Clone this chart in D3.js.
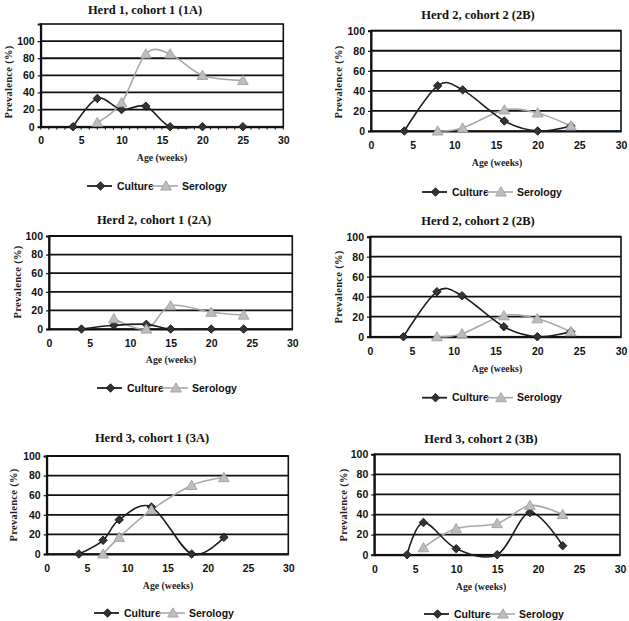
<!DOCTYPE html>
<html>
<head>
<meta charset="utf-8">
<script src="https://cdn.jsdelivr.net/npm/d3@7"></script>
<style>
  html, body { margin: 0; padding: 0; background: #fff; }
  svg { display: block; }
</style>
</head>
<body>
<svg id="chart" width="629" height="621"></svg>
<script>
// ---------- DATA ----------
const panelTitles = ["Herd 1, cohort 1 (1A)", "Herd 2, cohort 2 (2B)", "Herd 2, cohort 1 (2A)",
                     "Herd 2, cohort 2 (2B)", "Herd 3, cohort 1 (3A)", "Herd 3, cohort 2 (3B)"];
const seriesNames = ["Culture", "Serology"];
const xTicks = [0, 5, 10, 15, 20, 25, 30];
const yTicks = [0, 20, 40, 60, 80, 100];
const xAxisTitle = "Age (weeks)";
const yAxisTitle = "Prevalence (%)";

// Panel 1A
const culture1A_weeks = [4, 7, 10, 13, 16, 20, 25];
const culture1A_values = [0, 33, 20, 24, 0, 0, 0];
const serology1A_weeks = [7, 10, 13, 16, 20, 25];
const serology1A_values = [5, 28, 85, 85, 60, 54];

// Panel 2B
const culture2B_weeks = [4, 8, 11, 16, 20, 24];
const culture2B_values = [0, 45, 41, 10, 0, 5];
const serology2B_weeks = [8, 11, 16, 20, 24];
const serology2B_values = [0, 3, 21, 18, 5];

// Panel 2A
const culture2A_weeks = [4, 8, 12, 15, 20, 24];
const culture2A_values = [0, 4, 5, 0, 0, 0];
const serology2A_weeks = [8, 12, 15, 20, 24];
const serology2A_values = [11, 0, 25, 18, 15];

// Panel 3A
const culture3A_weeks = [4, 7, 9, 13, 18, 22];
const culture3A_values = [0, 14, 35, 48, 0, 17];
const serology3A_weeks = [7, 9, 13, 18, 22];
const serology3A_values = [0, 17, 45, 70, 78];

// Panel 3B
const culture3B_weeks = [4, 6, 10, 15, 19, 23];
const culture3B_values = [0, 32, 6, 0, 42, 9];
const serology3B_weeks = [6, 10, 15, 19, 23];
const serology3B_values = [7, 26, 31, 49, 40];

const zip = (xs, ys) => xs.map((x, i) => ({ x, y: ys[i] }));
const panelData = [
  { culture: zip(culture1A_weeks, culture1A_values), serology: zip(serology1A_weeks, serology1A_values) },
  { culture: zip(culture2B_weeks, culture2B_values), serology: zip(serology2B_weeks, serology2B_values) },
  { culture: zip(culture2A_weeks, culture2A_values), serology: zip(serology2A_weeks, serology2A_values) },
  { culture: zip(culture2B_weeks, culture2B_values), serology: zip(serology2B_weeks, serology2B_values) },
  { culture: zip(culture3A_weeks, culture3A_values), serology: zip(serology3A_weeks, serology3A_values) },
  { culture: zip(culture3B_weeks, culture3B_values), serology: zip(serology3B_weeks, serology3B_values) }
];

// ---------- LAYOUT (pixel geometry per panel) ----------
const layouts = [
  { l: 40.7, r: 283.3, t: 24, b: 126.7, yMax: 120, tx: 145, ty: 9.5, tickY: 140, axX: 162, axY: 158, legX: 87, legY: 186, ylX: 8, ylY: 82, minor: true },
  { l: 371, r: 621, t: 30.7, b: 131, yMax: 100, tx: 478, ty: 15, tickY: 145.7, axX: 497, axY: 163, legX: 422, legY: 192, ylX: 338, ylY: 82 },
  { l: 49, r: 292.3, t: 236, b: 329, yMax: 100, tx: 154, ty: 220, tickY: 343, axX: 171, axY: 360, legX: 97, legY: 388, ylX: 17, ylY: 282 },
  { l: 370, r: 621, t: 236.7, b: 336.7, yMax: 100, tx: 478, ty: 221, tickY: 351.7, axX: 497, axY: 369, legX: 422, legY: 397.7, ylX: 338, ylY: 287 },
  { l: 46.7, r: 288.3, t: 456, b: 554, yMax: 100, tx: 152, ty: 438, tickY: 568, axX: 168, axY: 586, legX: 94, legY: 613, ylX: 13, ylY: 505 },
  { l: 374.3, r: 620, t: 454.3, b: 554.7, yMax: 100, tx: 481, ty: 439, tickY: 569, axX: 481, axY: 586.7, legX: 424, legY: 614, ylX: 343, ylY: 505 }
];

const cultureColor = "#1e1e1e";
const seroLine = "#a8a8a8";
const seroFill = "#bdbdbd";
const serif = "'Liberation Serif', 'Times New Roman', serif";
const sans = "'Liberation Sans', Arial, sans-serif";

const svg = d3.select("#chart");

const triangle = d3.symbol().type(d3.symbolTriangle).size(50);

function drawMarkerDiamond(g, x, y) {
  g.append("path").attr("d", d3.symbol().type(d3.symbolSquare).size(36)())
    .attr("transform", `translate(${x},${y}) rotate(45)`)
    .attr("fill", "#333").attr("stroke", "#111").attr("stroke-width", 0.8);
}
function drawMarkerTriangle(g, x, y) {
  g.append("path").attr("d", triangle())
    .attr("transform", `translate(${x},${y + 1})`)
    .attr("fill", seroFill).attr("stroke", "#9a9a9a").attr("stroke-width", 0.8);
}

panelData.forEach((pd, i) => {
  const L = layouts[i];
  const g = svg.append("g");
  const x = d3.scaleLinear().domain([0, 30]).range([L.l, L.r]);
  const y = d3.scaleLinear().domain([0, L.yMax]).range([L.b, L.t]);

  // gridlines
  g.selectAll(".grid").data(yTicks.filter(v => v > 0)).enter().append("line")
    .attr("x1", L.l).attr("x2", L.r)
    .attr("y1", d => y(d)).attr("y2", d => y(d))
    .attr("stroke", "#111").attr("stroke-width", 1.8);

  // frame
  g.append("rect").attr("x", L.l).attr("y", L.t).attr("width", L.r - L.l).attr("height", L.b - L.t)
    .attr("fill", "none").attr("stroke", "#111").attr("stroke-width", 1.6);

  // x axis
  const xAxis = d3.axisBottom(x).tickValues(xTicks).tickSize(0).tickPadding(0);
  const xa = g.append("g").attr("transform", `translate(0,${L.b})`).call(xAxis);
  xa.select(".domain").attr("stroke", "#111").attr("stroke-width", 2);
  xa.selectAll("text").attr("y", L.tickY - L.b).attr("dy", "0.35em")
    .attr("font-family", sans).attr("font-weight", "bold").attr("font-size", 10.5).attr("fill", "#111");

  if (L.minor) {
    g.selectAll(".minor").data(d3.range(0, 31)).enter().append("line")
      .attr("x1", d => x(d)).attr("x2", d => x(d))
      .attr("y1", L.b).attr("y2", L.b + 3)
      .attr("stroke", "#111").attr("stroke-width", 1);
  }

  // y axis
  const yAxis = d3.axisLeft(y).tickValues(yTicks).tickSize(3).tickPadding(3);
  const ya = g.append("g").attr("transform", `translate(${L.l},0)`).call(yAxis);
  ya.select(".domain").attr("stroke", "#111").attr("stroke-width", 2);
  ya.selectAll(".tick line").attr("stroke", "#111").attr("stroke-width", 1.2);
  ya.selectAll("text").attr("font-family", sans).attr("font-weight", "bold").attr("font-size", 10.5).attr("fill", "#111");

  // title
  g.append("text").attr("x", L.tx).attr("y", L.ty).attr("dy", "0.35em")
    .attr("text-anchor", "middle").attr("font-family", serif).attr("font-weight", "bold")
    .attr("font-size", 12.5).attr("fill", "#111").text(panelTitles[i]);

  // axis titles
  g.append("text").attr("x", L.axX).attr("y", L.axY).attr("dy", "0.35em")
    .attr("text-anchor", "middle").attr("font-family", serif).attr("font-weight", "bold")
    .attr("font-size", 9.8).attr("fill", "#222").text(xAxisTitle);
  g.append("text").attr("transform", `translate(${L.ylX},${L.ylY}) rotate(-90)`).attr("dy", "0.35em")
    .attr("text-anchor", "middle").attr("font-family", serif).attr("font-weight", "bold")
    .attr("font-size", 10.5).attr("letter-spacing", 0.3).attr("fill", "#222").text(yAxisTitle);

  // lines
  const line = d3.line().x(d => x(d.x)).y(d => y(d.y)).curve(d3.curveCatmullRom.alpha(0));
  g.append("path").datum(pd.serology).attr("d", line)
    .attr("fill", "none").attr("stroke", seroLine).attr("stroke-width", 1.6);
  g.append("path").datum(pd.culture).attr("d", line)
    .attr("fill", "none").attr("stroke", cultureColor).attr("stroke-width", 1.6);

  pd.culture.forEach(d => drawMarkerDiamond(g, x(d.x), y(d.y)));
  pd.serology.forEach(d => drawMarkerTriangle(g, x(d.x), y(d.y)));

  // legend
  const lg = g.append("g").attr("transform", `translate(${L.legX},${L.legY})`);
  lg.append("line").attr("x1", 0).attr("x2", 25).attr("y1", 0).attr("y2", 0)
    .attr("stroke", cultureColor).attr("stroke-width", 1.8);
  drawMarkerDiamond(lg, 13.5, 0);
  lg.append("text").attr("x", 30).attr("y", 0).attr("dy", "0.35em")
    .attr("font-family", sans).attr("font-weight", "bold").attr("font-size", 10.5).attr("fill", "#111")
    .text(seriesNames[0]);
  lg.append("line").attr("x1", 65).attr("x2", 91).attr("y1", 0).attr("y2", 0)
    .attr("stroke", seroLine).attr("stroke-width", 1.6);
  drawMarkerTriangle(lg, 79, 0);
  lg.append("text").attr("x", 95).attr("y", 0).attr("dy", "0.35em")
    .attr("font-family", sans).attr("font-weight", "bold").attr("font-size", 10.5).attr("fill", "#111")
    .text(seriesNames[1]);
});
</script>
</body>
</html>
